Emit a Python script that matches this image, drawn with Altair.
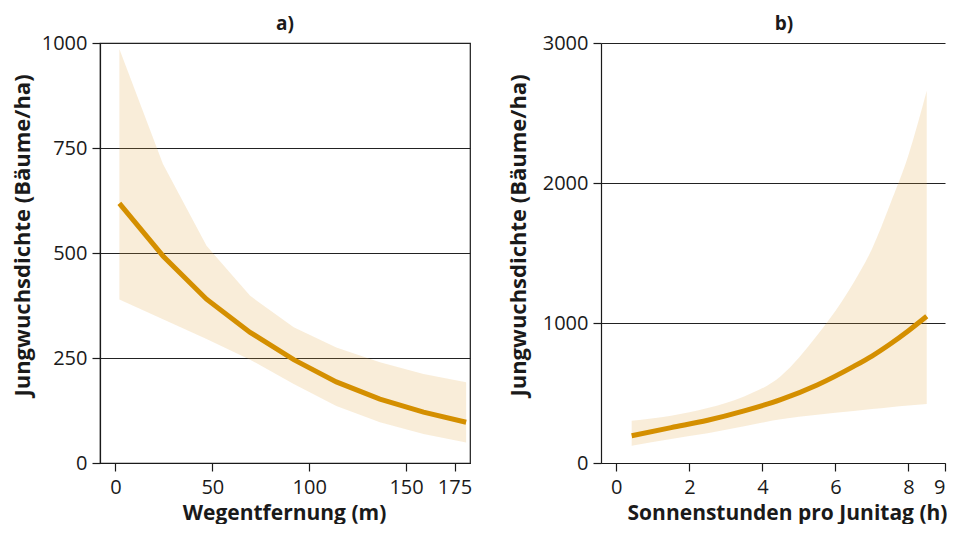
import altair as alt
import pandas as pd

# ---- Panel a) : distance to forest road ----
dist_m = [2, 24.5, 47, 69.5, 92, 114, 136.5, 159, 181]
dist_fit = [618, 493, 390, 311, 246, 193, 152, 121, 97]
dist_upper = [986, 712, 517, 398, 323, 275, 240, 212, 192]
dist_lower = [389, 342, 295, 246, 188, 136, 97, 69, 49]

# ---- Panel b) : sunshine hours per June day ----
sun_h = [0.42, 1.5, 2.5, 3.5, 4.5, 5.5, 6.5, 7.0, 7.5, 8.0, 8.5]
sun_fit = [195, 253, 305, 372, 452, 557, 690, 764, 850, 945, 1048]
sun_upper = [302, 338, 392, 475, 620, 912, 1290, 1529, 1850, 2200, 2659]
sun_lower = [124, 172, 212, 262, 312, 345, 372, 385, 398, 410, 421]

x_ticks_a = [0, 50, 100, 150, 175]
x_ticks_b = [0, 2, 4, 6, 8, 9]
y_ticks_a = [0, 250, 500, 750, 1000]
y_ticks_b = [0, 1000, 2000, 3000]

FONT = "Open Sans"
LINE = "#D48F00"
BAND = "#E1A541"
INK = "#1a1a1a"
YTITLE = "Jungwuchsdichte (Bäume/ha)"

df_a = pd.DataFrame({"x": dist_m, "fit": dist_fit, "upper": dist_upper, "lower": dist_lower})
df_b = pd.DataFrame({"x": sun_h, "fit": sun_fit, "upper": sun_upper, "lower": sun_lower})


def panel(df, xdomain, xticks, ydomain, yticks, xtitle, title, width, interp,
          xtitle_x, ytitle_x, title_dx, stroke):
    xscale = alt.Scale(domain=xdomain, nice=False, zero=False)
    yscale = alt.Scale(domain=ydomain, nice=False)
    xaxis = alt.Axis(values=xticks, title=xtitle, grid=False, labelPadding=6, format="d",
                     titleX=xtitle_x, titleY=50, titleBaseline="middle",
                     titleAlign="center")
    yaxis = alt.Axis(values=yticks, title=YTITLE, grid=True, labelPadding=5, format="d",
                     titleX=ytitle_x, titleY=192, titleBaseline="middle", titleAlign="center",
                     titleAngle=270, titleFontSize=22)
    base = alt.Chart(df)
    band = base.mark_area(color=BAND, opacity=0.2, interpolate=interp).encode(
        x=alt.X("x:Q", scale=xscale, axis=xaxis),
        y=alt.Y("lower:Q", scale=yscale, axis=yaxis),
        y2="upper:Q",
    )
    line = base.mark_line(color=LINE, strokeWidth=5, interpolate=interp).encode(
        x=alt.X("x:Q", scale=xscale, axis=xaxis),
        y=alt.Y("fit:Q", scale=yscale, axis=yaxis),
    )
    return alt.layer(band, line).properties(
        width=width,
        height=420,
        title=alt.TitleParams(title, dx=title_dx, dy=3, offset=2),
        view=alt.ViewBackground(stroke=stroke, strokeWidth=1.2),
    )


left = panel(df_a, [-8, 183], x_ticks_a, [0, 1000], y_ticks_a,
             "Wegentfernung (m)", "a)", 370, "linear",
             184, -78, 0, INK)
right = panel(df_b, [-0.42, 9.0], x_ticks_b, [0, 3000], y_ticks_b,
              "Sonnenstunden pro Junitag (h)", "b)", 344, "monotone",
              186, -83, 11, None)

chart = alt.hconcat(left, right, spacing=29).properties(
    padding={"left": 2, "top": 6, "right": 0, "bottom": 0}
).configure_axis(
    labelFont=FONT, labelFontSize=20, labelColor=INK,
    titleFont=FONT, titleFontSize=21, titleFontWeight="bold", titleColor=INK,
    tickColor=INK, tickSize=8, tickWidth=1.2, domainColor=INK, domainWidth=1.2,
    gridColor="#222222", gridWidth=1,
).configure_title(
    font=FONT, fontSize=19, fontWeight="bold", color=INK, anchor="middle"
).configure_view(
    stroke=None
)

chart.save("out.html", embed_options={"renderer": "svg", "actions": False})
